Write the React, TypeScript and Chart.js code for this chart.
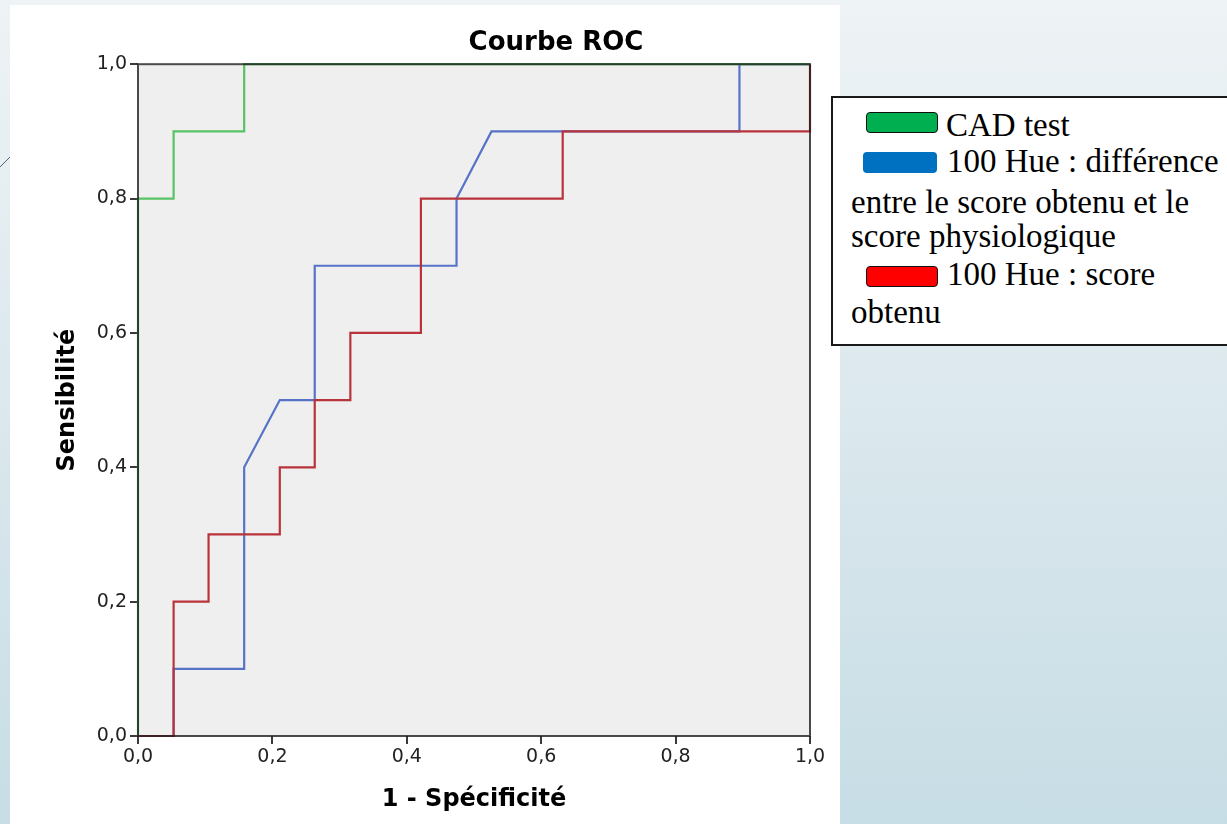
import React, { useEffect, useRef } from 'react';
import { Chart, registerables } from 'chart.js';

Chart.register(...registerables);

// ROC curve points (x = 1 - Spécificité, y = Sensibilité)
const cadX = [0, 0, 0.053, 0.053, 0.158, 0.158, 1];
const cadY = [0, 0.8, 0.8, 0.9, 0.9, 1, 1];

const diffX = [0, 0.053, 0.053, 0.158, 0.158, 0.211, 0.263, 0.263, 0.474, 0.474, 0.526, 0.895, 0.895, 1];
const diffY = [0, 0, 0.1, 0.1, 0.4, 0.5, 0.5, 0.7, 0.7, 0.8, 0.9, 0.9, 1, 1];

const scoreX = [0, 0.053, 0.053, 0.105, 0.105, 0.211, 0.211, 0.263, 0.263, 0.316, 0.316, 0.421, 0.421, 0.632, 0.632, 1, 1];
const scoreY = [0, 0, 0.2, 0.2, 0.3, 0.3, 0.4, 0.4, 0.5, 0.5, 0.6, 0.6, 0.8, 0.8, 0.9, 0.9, 1];

const seriesNames = ['CAD test', '100 Hue : différence entre le score obtenu et le score physiologique', '100 Hue : score obtenu'];
const lineColors = ['#58c265', '#5673c8', '#b9333b'];
const swatchColors = ['#00b050', '#0070c0', '#ff0000'];

const chartTitle = 'Courbe ROC';
const xTitle = '1 - Spécificité';
const yTitle = 'Sensibilité';
const axisMin = 0;
const axisMax = 1;
const axisStep = 0.2;

const toPoints = (xs: number[], ys: number[]) => xs.map((x, i) => ({ x, y: ys[i] }));
const fmt = (v: number | string) => Number(v).toFixed(1).replace('.', ',');

const framePlugin = {
  id: 'rocFrame',
  beforeDraw(chart: any) {
    const { ctx, chartArea } = chart;
    ctx.save();
    ctx.fillStyle = '#efefef';
    ctx.fillRect(chartArea.left, chartArea.top, chartArea.right - chartArea.left, chartArea.bottom - chartArea.top);
    ctx.restore();
  },
  afterDatasetsDraw(chart: any) {
    const { ctx, chartArea } = chart;
    ctx.save();
    ctx.strokeStyle = 'rgba(30,30,30,0.8)';
    ctx.lineWidth = 2;
    ctx.strokeRect(chartArea.left, chartArea.top, chartArea.right - chartArea.left, chartArea.bottom - chartArea.top);
    ctx.restore();
  },
};

export default function App() {
  const canvasRef = useRef<HTMLCanvasElement>(null);

  useEffect(() => {
    if (!canvasRef.current) return;
    const series = [
      { xs: cadX, ys: cadY, order: 1 },
      { xs: diffX, ys: diffY, order: 2 },
      { xs: scoreX, ys: scoreY, order: 0 },
    ];
    const chart = new Chart(canvasRef.current, {
      type: 'scatter',
      data: {
        datasets: series.map((s, i) => ({
          label: seriesNames[i],
          data: toPoints(s.xs, s.ys),
          showLine: true,
          borderColor: lineColors[i],
          backgroundColor: lineColors[i],
          borderWidth: 2.2,
          pointRadius: 0,
          pointHoverRadius: 0,
          tension: 0,
          fill: false,
          clip: 4,
          order: s.order,
          xAxisID: 'x',
          yAxisID: 'y',
        })),
      },
      options: {
        animation: false,
        responsive: false,
        maintainAspectRatio: false,
        devicePixelRatio: 1,
        layout: { padding: 0 },
        plugins: {
          legend: { display: false },
          tooltip: { enabled: false },
          title: {
            display: true,
            text: chartTitle,
            color: '#000',
            font: { family: 'DejaVu Sans', size: 26, weight: 'bold' },
            padding: { top: 23, bottom: 5 },
          },
        },
        scales: {
          x: {
            type: 'linear',
            min: axisMin,
            max: axisMax,
            afterFit: (scale: any) => { scale.height = 88; },
            ticks: {
              stepSize: axisStep,
              callback: (v: any) => fmt(v),
              color: '#222',
              font: { family: 'DejaVu Sans', size: 19 },
              padding: 2,
              maxRotation: 0,
            },
            grid: { drawOnChartArea: false, drawTicks: true, tickLength: 8, color: '#3a3a3a', lineWidth: 2 },
            border: { display: false },
            title: {
              display: true,
              text: xTitle,
              color: '#000',
              font: { family: 'DejaVu Sans', size: 24, weight: 'bold' },
              padding: { top: 0, bottom: 10 },
            },
          },
          y: {
            type: 'linear',
            min: axisMin,
            max: axisMax,
            afterFit: (scale: any) => { scale.width = 128; },
            ticks: {
              stepSize: axisStep,
              callback: (v: any) => fmt(v),
              color: '#222',
              font: { family: 'DejaVu Sans', size: 19 },
              padding: 3,
            },
            grid: { drawOnChartArea: false, drawTicks: true, tickLength: 8, color: '#3a3a3a', lineWidth: 2 },
            border: { display: false },
            title: {
              display: true,
              text: yTitle,
              color: '#000',
              font: { family: 'DejaVu Sans', size: 24, weight: 'bold' },
              padding: { top: 43, bottom: 0 },
            },
          },
          spacer: {
            type: 'linear',
            position: 'right',
            display: true,
            min: axisMin,
            max: axisMax,
            afterFit: (scale: any) => { scale.width = 292; },
            ticks: { display: false },
            grid: { display: false, drawTicks: false },
            border: { display: false },
            title: { display: false },
          },
        },
      },
      plugins: [framePlugin],
    });
    return () => chart.destroy();
  }, []);

  const legendLines = [
    { text: 'CAD test', baseline: 136, left: 946 },
    { text: '100 Hue : différence', baseline: 172, left: 947 },
    { text: 'entre le score obtenu et le', baseline: 213, left: 851 },
    { text: 'score physiologique', baseline: 247, left: 851 },
    { text: '100 Hue : score', baseline: 285, left: 947 },
    { text: 'obtenu', baseline: 323, left: 851 },
  ];
  const swatchTops = [112, 152, 266];

  return (
    <div
      style={{
        position: 'fixed',
        left: 0,
        top: 0,
        width: 1227,
        height: 824,
        overflow: 'hidden',
        background: 'linear-gradient(to bottom, #eef3f5 0%, #dbe8ed 50%, #c7dde5 100%)',
      }}
    >
      <svg width={40} height={200} style={{ position: 'absolute', left: 0, top: 120 }}>
        <line x1={0} y1={47} x2={30} y2={17} stroke="#4f6575" strokeWidth={1} />
      </svg>
      <div style={{ position: 'absolute', left: 10, top: 5, width: 830, height: 819, background: '#ffffff' }} />
      <canvas
        ref={canvasRef}
        width={1092}
        height={819}
        style={{ position: 'absolute', left: 10, top: 5, width: 1092, height: 819 }}
      />
      <div
        style={{
          position: 'absolute',
          left: 831,
          top: 96,
          width: 410,
          height: 250,
          boxSizing: 'border-box',
          border: '2px solid #1a1a1a',
          background: '#ffffff',
        }}
      />
      {swatchTops.map((t, i) => (
        <div
          key={'sw' + i}
          style={{
            position: 'absolute',
            left: i === 1 ? 863 : 866,
            top: t,
            width: i === 1 ? 74 : 72,
            height: 21,
            boxSizing: 'border-box',
            borderRadius: 4,
            background: swatchColors[i],
            border: i === 1 ? 'none' : '1.5px solid #111',
          }}
        />
      ))}
      {legendLines.map((l, i) => (
        <div
          key={'lg' + i}
          style={{
            position: 'absolute',
            left: l.left,
            top: l.baseline - 29,
            lineHeight: '36px',
            fontFamily: '"Liberation Serif", serif',
            fontSize: 33,
            color: '#000',
            whiteSpace: 'nowrap',
          }}
        >
          {l.text}
        </div>
      ))}
    </div>
  );
}
